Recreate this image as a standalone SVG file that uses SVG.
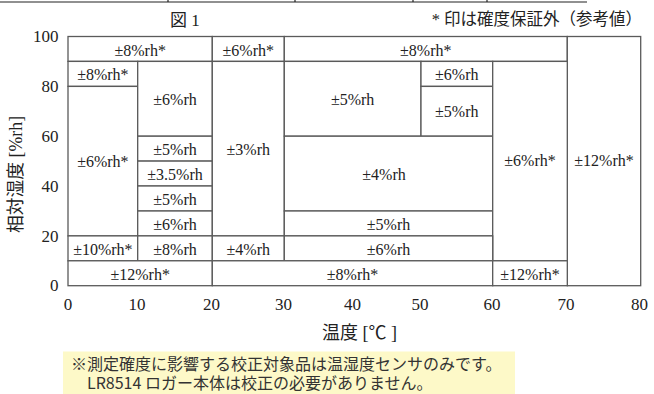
<svg xmlns="http://www.w3.org/2000/svg" width="654" height="394" viewBox="0 0 654 394">
<style>
.cell{fill:#fff;stroke:#5a5a5a;stroke-width:1.3}
.lbl{font-family:"Liberation Serif","DejaVu Serif",serif;font-size:16px;fill:#222;text-anchor:middle}
.tick{font-family:"Liberation Serif","DejaVu Serif",serif;font-size:17px;fill:#222}
.lat{font-family:"Liberation Serif","DejaVu Serif",serif}
.cjk{font-family:"Noto Sans CJK JP",sans-serif}
.jp{fill:#222}
.note{font-family:"Noto Sans CJK JP",sans-serif;font-size:16px;fill:#333}
</style>
<rect width="654" height="394" fill="#fff"/>
<g id="topline" stroke="#222" stroke-width="1.2" fill="none">
<line x1="0" y1="2" x2="587" y2="2"/>
<line x1="168" y1="0" x2="168" y2="2"/>
<line x1="295" y1="0" x2="295" y2="2"/>
<line x1="413" y1="0" x2="413" y2="2"/>
<line x1="487" y1="0" x2="487" y2="2"/>
</g>
<text id="fig-title" class="jp" x="170" y="26" font-size="17"><tspan class="cjk">図</tspan><tspan class="lat"> 1</tspan></text>
<text id="legend" class="jp" x="642" y="25" font-size="16.5" text-anchor="end"><tspan class="lat">* </tspan><tspan class="cjk">印は確度保証外（参考値）</tspan></text>

<g id="cells">
<g id="c1"><rect class="cell" x="68" y="36.5" width="144.3" height="24.9"/><text class="lbl" x="140.2" y="55.5">±8%rh*</text></g>
<g id="c2"><rect class="cell" x="212.3" y="36.5" width="72" height="24.9"/><text class="lbl" x="248.3" y="55.5">±6%rh*</text></g>
<g id="c3"><rect class="cell" x="284.3" y="36.5" width="283" height="24.9"/><text class="lbl" x="425.8" y="55.5">±8%rh*</text></g>
<g id="c4"><rect class="cell" x="567.3" y="36.5" width="73.4" height="249.2"/><text class="lbl" x="604" y="166">±12%rh*</text></g>
<g id="c5"><rect class="cell" x="68" y="61.4" width="69.7" height="25"/><text class="lbl" x="102.9" y="80.4">±8%rh*</text></g>
<g id="c6"><rect class="cell" x="68" y="86.4" width="69.7" height="149.5"/><text class="lbl" x="102.9" y="167.4">±6%rh*</text></g>
<g id="c7"><rect class="cell" x="137.7" y="61.4" width="74.6" height="74.8"/><text class="lbl" x="175" y="105.3">±6%rh</text></g>
<g id="c8"><rect class="cell" x="137.7" y="136.2" width="74.6" height="24.9"/><text class="lbl" x="175" y="155.2">±5%rh</text></g>
<g id="c9"><rect class="cell" x="137.7" y="161.1" width="74.6" height="24.9"/><text class="lbl" x="175" y="180.1">±3.5%rh</text></g>
<g id="c10"><rect class="cell" x="137.7" y="186" width="74.6" height="25"/><text class="lbl" x="175" y="205">±5%rh</text></g>
<g id="c11"><rect class="cell" x="137.7" y="211" width="74.6" height="24.9"/><text class="lbl" x="175" y="229.9">±6%rh</text></g>
<g id="c12"><rect class="cell" x="212.3" y="61.4" width="72" height="174.5"/><text class="lbl" x="248.3" y="155">±3%rh</text></g>
<g id="c13"><rect class="cell" x="284.3" y="61.4" width="136.7" height="74.8"/><text class="lbl" x="352.6" y="105.3">±5%rh</text></g>
<g id="c14"><rect class="cell" x="421" y="61.4" width="71.7" height="25"/><text class="lbl" x="456.8" y="80.4">±6%rh</text></g>
<g id="c15"><rect class="cell" x="421" y="86.4" width="71.7" height="49.8"/><text class="lbl" x="456.8" y="117.3">±5%rh</text></g>
<g id="c16"><rect class="cell" x="284.3" y="136.2" width="208.4" height="74.8"/><text class="lbl" x="384" y="180">±4%rh</text></g>
<g id="c17"><rect class="cell" x="284.3" y="211" width="208.4" height="24.9"/><text class="lbl" x="388.5" y="229.9">±5%rh</text></g>
<g id="c18"><rect class="cell" x="492.7" y="61.4" width="74.6" height="199.4"/><text class="lbl" x="530" y="166">±6%rh*</text></g>
<g id="c19"><rect class="cell" x="68" y="235.9" width="69.7" height="24.9"/><text class="lbl" x="102.9" y="254.8">±10%rh*</text></g>
<g id="c20"><rect class="cell" x="137.7" y="235.9" width="74.6" height="24.9"/><text class="lbl" x="175" y="254.8">±8%rh</text></g>
<g id="c21"><rect class="cell" x="212.3" y="235.9" width="72" height="24.9"/><text class="lbl" x="248.3" y="254.8">±4%rh</text></g>
<g id="c22"><rect class="cell" x="284.3" y="235.9" width="208.4" height="24.9"/><text class="lbl" x="388.5" y="254.8">±6%rh</text></g>
<g id="c23"><rect class="cell" x="68" y="260.8" width="144.3" height="24.9"/><text class="lbl" x="140.2" y="279.7">±12%rh*</text></g>
<g id="c24"><rect class="cell" x="212.3" y="260.8" width="280.4" height="24.9"/><text class="lbl" x="352.5" y="279.7">±8%rh*</text></g>
<g id="c25"><rect class="cell" x="492.7" y="260.8" width="74.6" height="24.9"/><text class="lbl" x="530" y="279.7">±12%rh*</text></g>
</g>

<g id="y-axis" class="tick" text-anchor="end">
<text x="58.5" y="42.3">100</text>
<text x="58.5" y="92.1">80</text>
<text x="58.5" y="142">60</text>
<text x="58.5" y="191.8">40</text>
<text x="58.5" y="241.6">20</text>
<text x="58.5" y="291.4">0</text>
</g>
<g id="x-axis" class="tick" text-anchor="middle">
<text x="68" y="310">0</text>
<text x="137" y="310">10</text>
<text x="211.5" y="310">20</text>
<text x="283.5" y="310">30</text>
<text x="352.5" y="310">40</text>
<text x="420" y="310">50</text>
<text x="492" y="310">60</text>
<text x="566" y="310">70</text>
<text x="639.5" y="310">80</text>
</g>
<text id="y-title" class="jp" font-size="17.8" transform="translate(21.5,233) rotate(-90)"><tspan class="cjk">相対湿度</tspan><tspan class="lat"> [%rh]</tspan></text>
<text id="x-title" class="jp" font-size="18" x="322" y="339"><tspan class="cjk">温度</tspan><tspan class="lat"> [</tspan><tspan class="cjk">℃</tspan><tspan class="lat"> ]</tspan></text>

<g id="footnote">
<rect x="63" y="351.5" width="452" height="42.5" fill="#fdf9c8"/>
<text class="note" x="71" y="369.5">※測定確度に影響する校正対象品は温湿度センサのみです。</text>
<text class="note" x="87" y="389">LR8514 ロガー本体は校正の必要がありません。</text>
</g>
</svg>
